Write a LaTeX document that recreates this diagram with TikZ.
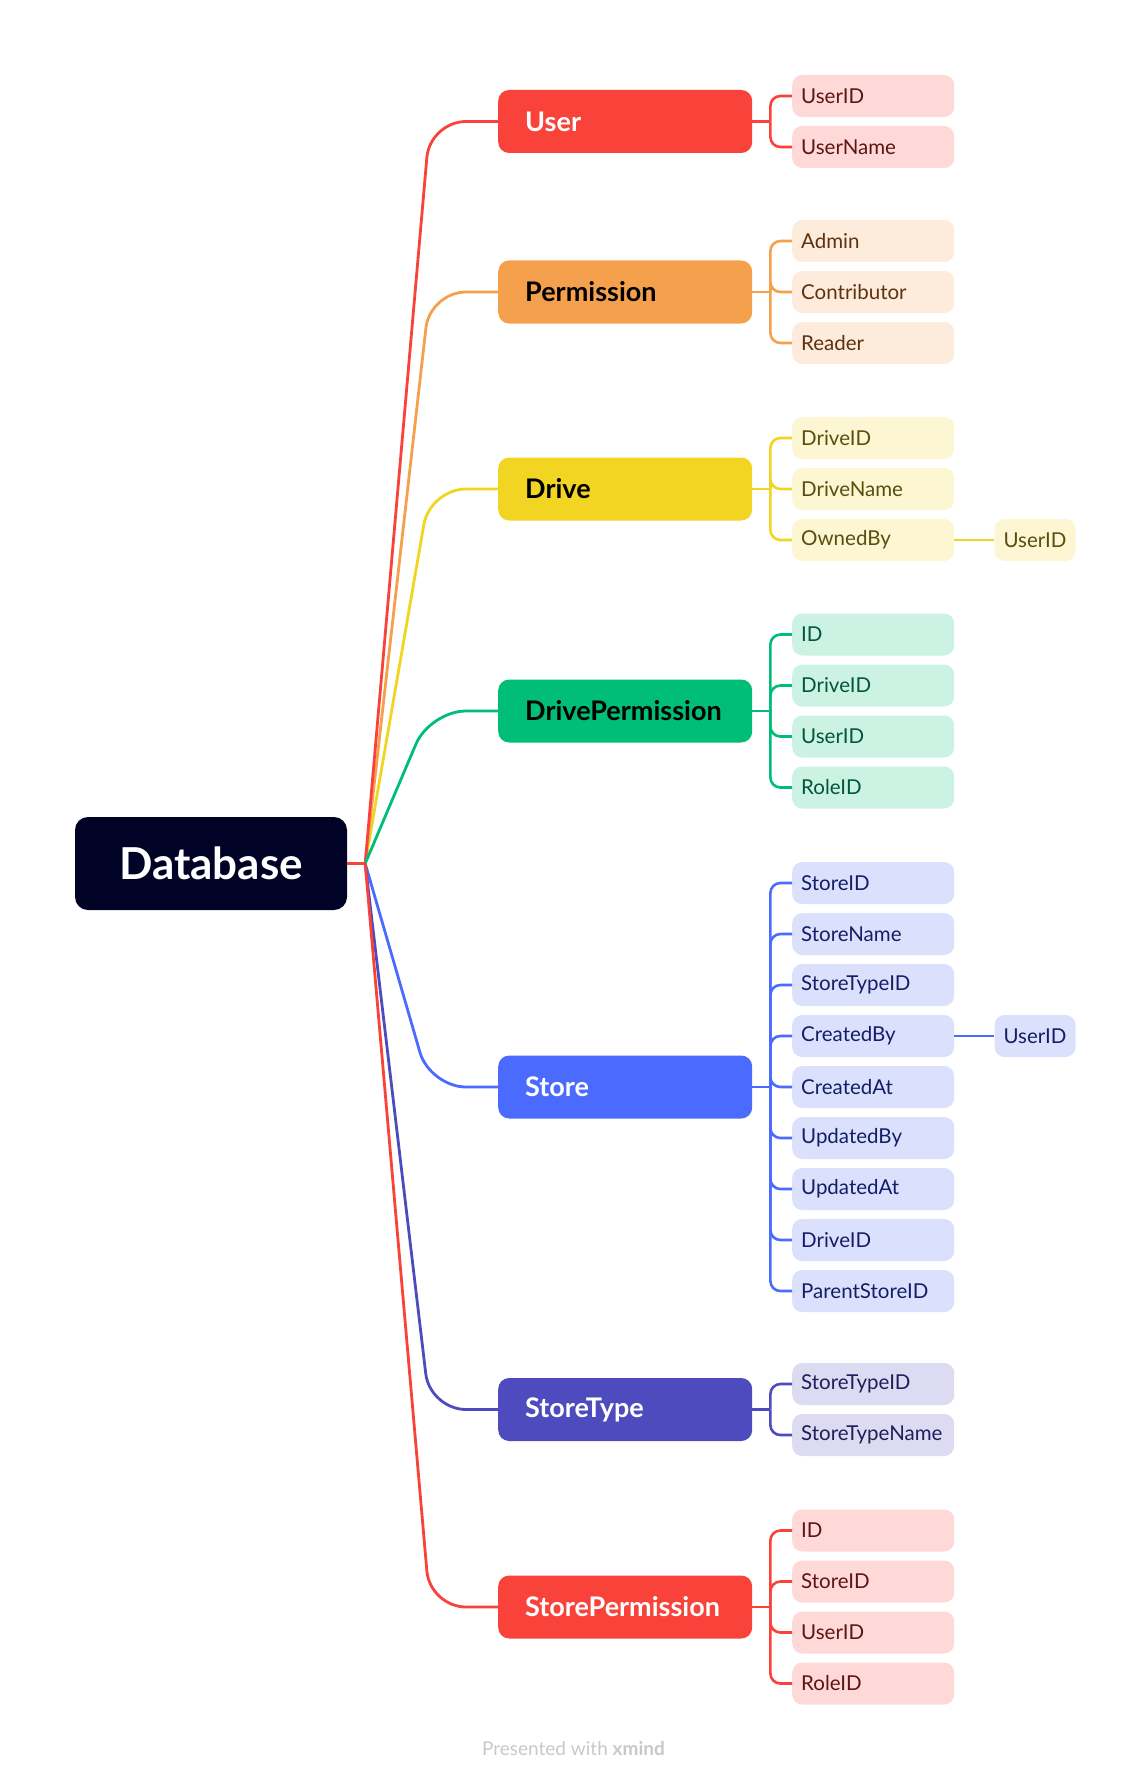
\documentclass[tikz,border=0pt]{standalone}
\usepackage{fontspec}
\setmainfont{Lato}
\usetikzlibrary{calc}

\definecolor{dbnavy}{HTML}{000326}
\definecolor{redmain}{HTML}{F9423A}
\definecolor{redsoft}{HTML}{FED9D8}
\definecolor{redtext}{HTML}{5E1413}
\definecolor{orgmain}{HTML}{F5A04C}
\definecolor{orgsoft}{HTML}{FDEBDB}
\definecolor{orgtext}{HTML}{5E3210}
\definecolor{ylwmain}{HTML}{F2D523}
\definecolor{ylwsoft}{HTML}{FCF6D3}
\definecolor{ylwtext}{HTML}{5A4E0E}
\definecolor{grnmain}{HTML}{00BD77}
\definecolor{grnsoft}{HTML}{CCF2E4}
\definecolor{grntext}{HTML}{00563A}
\definecolor{blumain}{HTML}{4B6BFF}
\definecolor{blusoft}{HTML}{DBE1FD}
\definecolor{blutext}{HTML}{141E66}
\definecolor{prpmain}{HTML}{4E4BBE}
\definecolor{prpsoft}{HTML}{DCDBF2}
\definecolor{prptext}{HTML}{201E5A}
\definecolor{footgray}{HTML}{C8C8C8}

\tikzset{
  rootbox/.style={fill=dbnavy, text=white, rounded corners=13pt,
    minimum width=272pt, minimum height=93pt,
    font=\fontsize{44}{50}\selectfont\bfseries},
  branchbox/.style={anchor=west, rounded corners=11pt, inner xsep=27pt,
    text width=200pt, minimum height=63pt,
    font=\fontsize{27}{32}\selectfont\bfseries},
  leafbox/.style={anchor=west, rounded corners=10pt, inner xsep=9pt,
    text width=144pt, minimum height=42pt,
    font=\fontsize{20.5}{24}\selectfont},
  tipbox/.style={anchor=west, rounded corners=10pt, inner xsep=9pt,
    minimum height=42pt, font=\fontsize{20.5}{24}\selectfont},
  link/.style={line width=2.8pt, rounded corners=36pt},
  bracket/.style={line width=2.6pt, rounded corners=10pt},
}

\begin{document}
\begin{tikzpicture}[x=1pt,y=-1pt]
  \useasboundingbox (0,0) rectangle (1147,1779);

  % root
  \node[rootbox] (db) at (211,863.5) {Database};
  \coordinate (hub) at ([xshift=18pt]db.east);

  % main topics
  \node[branchbox, fill=redmain, text=white] (user) at (498,121.5) {User};
  \node[branchbox, fill=orgmain, text=black] (perm) at (498,292) {Permission};
  \node[branchbox, fill=ylwmain, text=black] (drive) at (498,489) {Drive};
  \node[branchbox, fill=grnmain, text=black] (drvperm) at (498,711) {DrivePermission};
  \node[branchbox, fill=blumain, text=white] (store) at (498,1087) {Store};
  \node[branchbox, fill=prpmain, text=white] (stype) at (498,1409.5) {StoreType};
  \node[branchbox, fill=redmain, text=white] (sperm) at (498,1607) {StorePermission};

  % curves from the root
  \draw[link, ylwmain] (hub) -- ([xshift=-68pt]drive.west) -- (drive.west);
  \draw[link, orgmain] (hub) -- ([xshift=-68pt]perm.west) -- (perm.west);
  \draw[link, redmain] (hub) -- ([xshift=-68pt]user.west) -- (user.west);
  \draw[link, grnmain] (hub) -- ([xshift=-68pt]drvperm.west) -- (drvperm.west);
  \draw[link, blumain] (hub) -- ([xshift=-68pt]store.west) -- (store.west);
  \draw[link, prpmain] (hub) -- ([xshift=-68pt]stype.west) -- (stype.west);
  \draw[link, redmain] (hub) -- ([xshift=-68pt]sperm.west) -- (sperm.west);
  \draw[line width=2.8pt, redmain] (db.east) -- (hub);

  % User
  \coordinate (user-j) at ([xshift=18pt]user.east);
  \draw[bracket, redmain] (user.east) -- (user-j);
  \foreach \t [count=\i] in {UserID,UserName} {
    \node[leafbox, fill=redsoft, text=redtext] (user-\i) at (792,{96+51*(\i-1)}) {\t};
    \draw[bracket, redmain] (user-j) |- (user-\i.west);
  }

  % Permission
  \coordinate (perm-j) at ([xshift=18pt]perm.east);
  \draw[bracket, orgmain] (perm.east) -- (perm-j);
  \foreach \t [count=\i] in {Admin,Contributor,Reader} {
    \node[leafbox, fill=orgsoft, text=orgtext] (perm-\i) at (792,{241+51*(\i-1)}) {\t};
    \draw[bracket, orgmain] (perm-j) |- (perm-\i.west);
  }

  % Drive
  \coordinate (drive-j) at ([xshift=18pt]drive.east);
  \draw[bracket, ylwmain] (drive.east) -- (drive-j);
  \foreach \t [count=\i] in {DriveID,DriveName,OwnedBy} {
    \node[leafbox, fill=ylwsoft, text=ylwtext] (drive-\i) at (792,{438+51*(\i-1)}) {\t};
    \draw[bracket, ylwmain] (drive-j) |- (drive-\i.west);
  }
  \node[tipbox, fill=ylwsoft, text=ylwtext] (drive-tip) at ([xshift=40pt]drive-3.east) {UserID};
  \draw[bracket, ylwmain] (drive-3.east) -- (drive-tip.west);

  % DrivePermission
  \coordinate (drvperm-j) at ([xshift=18pt]drvperm.east);
  \draw[bracket, grnmain] (drvperm.east) -- (drvperm-j);
  \foreach \t [count=\i] in {ID,DriveID,UserID,RoleID} {
    \node[leafbox, fill=grnsoft, text=grntext] (drvperm-\i) at (792,{634.5+51*(\i-1)}) {\t};
    \draw[bracket, grnmain] (drvperm-j) |- (drvperm-\i.west);
  }

  % Store
  \coordinate (store-j) at ([xshift=18pt]store.east);
  \draw[bracket, blumain] (store.east) -- (store-j);
  \foreach \t [count=\i] in {StoreID,StoreName,StoreTypeID,CreatedBy,CreatedAt,UpdatedBy,UpdatedAt,DriveID,ParentStoreID} {
    \node[leafbox, fill=blusoft, text=blutext] (store-\i) at (792,{883+51*(\i-1)}) {\t};
    \draw[bracket, blumain] (store-j) |- (store-\i.west);
  }
  \node[tipbox, fill=blusoft, text=blutext] (store-tip) at ([xshift=40pt]store-4.east) {UserID};
  \draw[bracket, blumain] (store-4.east) -- (store-tip.west);

  % StoreType
  \coordinate (stype-j) at ([xshift=18pt]stype.east);
  \draw[bracket, prpmain] (stype.east) -- (stype-j);
  \foreach \t [count=\i] in {StoreTypeID,StoreTypeName} {
    \node[leafbox, fill=prpsoft, text=prptext] (stype-\i) at (792,{1384+51*(\i-1)}) {\t};
    \draw[bracket, prpmain] (stype-j) |- (stype-\i.west);
  }

  % StorePermission
  \coordinate (sperm-j) at ([xshift=18pt]sperm.east);
  \draw[bracket, redmain] (sperm.east) -- (sperm-j);
  \foreach \t [count=\i] in {ID,StoreID,UserID,RoleID} {
    \node[leafbox, fill=redsoft, text=redtext] (sperm-\i) at (792,{1530.5+51*(\i-1)}) {\t};
    \draw[bracket, redmain] (sperm-j) |- (sperm-\i.west);
  }

  \node[text=footgray, font=\fontsize{19}{22}\selectfont] (footer) at (573.5,1748) {Presented with \textbf{xmind}};
\end{tikzpicture}
\end{document}
